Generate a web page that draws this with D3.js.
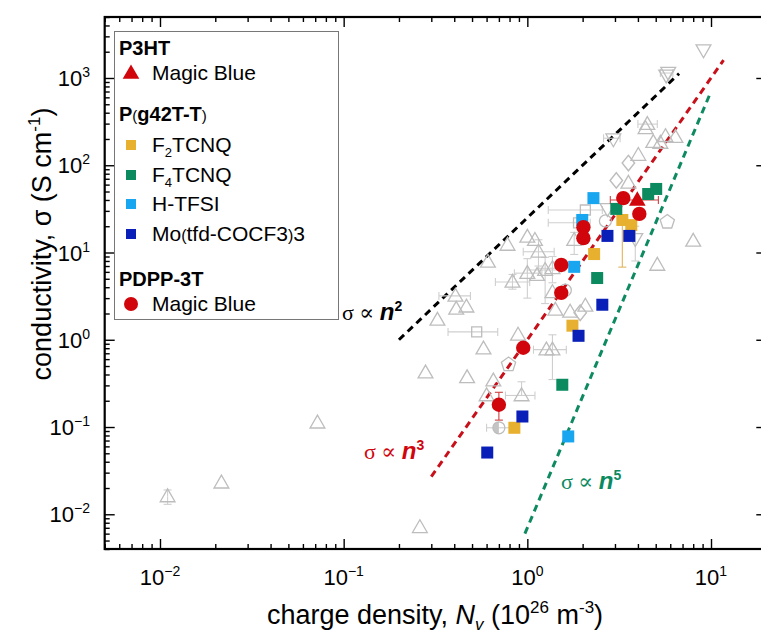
<!DOCTYPE html>
<html>
<head>
<meta charset="utf-8">
<script src="https://cdn.jsdelivr.net/npm/d3@7/dist/d3.min.js"></script>
<style>
  body { margin: 0; background: #fff; }
  svg { display: block; }
</style>
</head>
<body>
<div id="chart"></div>
<script>
'use strict';

// ── Data ──
var xTicks = [0.01, 0.1, 1, 10];
var yTicks = [0.01, 0.1, 1, 10, 100, 1000];

// [N_v (1e26 m^-3), sigma (S/cm)]
var p3htMagicBlue = [[3.97, 40]];
var pdppMagicBlue = [[0.70, 0.18], [0.95, 0.81], [1.53, 3.45], [1.53, 7.2], [2.02, 19.5], [2.02, 14.6], [3.33, 42], [4.07, 27.7]];
var f2tcnq = [[0.85, 0.098], [1.76, 1.45], [2.31, 9.6], [3.29, 23.6], [3.68, 20.6]];
var f4tcnq = [[1.55, 0.305], [2.4, 5.1], [3.05, 31.6], [4.55, 46.8], [5.03, 53.5]];
var htfsi = [[1.67, 0.078], [1.8, 6.85], [1.99, 23.6], [2.29, 42]];
var moTfd = [[0.605, 0.051], [0.94, 0.132], [1.9, 1.11], [2.56, 2.52], [2.73, 15.5], [3.59, 15.5]];

// coloured error bars [N, sigma, xlo, xhi, ylo, yhi, colour key]
var colourErrors = [
    [0.70, 0.18, null, null, 0.12, 0.25, 'red'],
    [3.97, 40, 2.83, 5.17, null, null, 'red'],
    [3.29, 23.6, null, null, 6.8, null, 'orange']
];

// literature data (grey open symbols)
var litTriUp = [
    [0.011, 0.016], [0.0216, 0.023], [0.072, 0.112], [0.26, 0.0071], [0.279, 0.42], [0.47, 0.37],
    [0.324, 1.69], [0.577, 0.79], [0.89, 1.14], [1.37, 0.77], [1.27, 0.77], [0.653, 0.34],
    [0.6, 0.23], [0.93, 0.23], [0.78, 12.2], [0.61, 7.8], [0.406, 3.18], [0.41, 2.26],
    [0.466, 2.39], [0.83, 4.6], [1.0, 15.1], [1.1, 13.9], [1.15, 10.2], [1.0, 5.8],
    [1.13, 5.5], [1.25, 6.3], [1.37, 6.6], [1.37, 3.5], [1.42, 2.2], [1.71, 2.09],
    [2.07, 2.45], [1.8, 13.9], [4.02, 131], [3.55, 62.7], [8.0, 13.6], [5.1, 7.2],
    [4.5, 296], [4.4, 265], [5.65, 215], [6.4, 210], [4.85, 184], [5.3, 180]
];
var litTriDown = [[9.1, 2140], [5.7, 1100], [5.85, 1180], [2.94, 204], [2.73, 32.4], [3.87, 14.7]];
var litDiamond = [[3.55, 106], [3.05, 67], [1.94, 2.04]];
var litSquare = [[2.07, 30.7], [1.9, 21.9], [0.53, 1.23]];
var litCircle = [[2.66, 23], [1.61, 3.7]];
var litHalfCircle = [[0.70, 0.098]];
var litPentagon = [[5.78, 22.4], [0.79, 0.52]];

// grey error bars [N, sigma, xlo, xhi, ylo, yhi]
var litErrors = [
    [0.011, 0.016, null, null, 0.013, 0.019],
    [1.37, 0.77, 1.08, 1.63, 0.35, 1.14],
    [0.93, 0.23, 0.76, 1.1, null, 0.33],
    [0.406, 3.18, 0.33, 0.49, null, null],
    [0.83, 4.6, 0.67, 1.03, 3.8, 5.6],
    [1.15, 10.2, 0.95, 1.4, 7, 14],
    [1.0, 5.8, 0.85, 1.2, 3.0, 8.5],
    [1.25, 6.3, 1.0, 1.5, 2.6, 8.8],
    [1.37, 6.6, 1.15, 1.6, 4.5, 9],
    [2.07, 30.7, 1.3, 2.56, null, null],
    [1.9, 21.9, 1.3, 2.2, null, null],
    [0.53, 1.23, 0.37, 0.69, null, null],
    [0.70, 0.098, 0.6, 0.82, null, null],
    [4.5, 296, 4.0, 5.1, null, null],
    [5.78, 1140, 5.3, 6.2, null, null],
    [1.8, 13.9, null, null, 9.5, 17],
    [3.87, 14.7, null, null, 8, 20],
    [2.94, 204, 2.6, 3.2, null, null]
];

// power laws sigma = a * N^k drawn over [nStart, nEnd]
var lawN2 = {a: 25, k: 2, n0: 0.2, n1: 6.7, colour: '#000000'};
var lawN3 = {a: 1, k: 3, n0: 0.3, n1: 11.7, colour: '#c8101a'};
var lawN5 = {a: 0.007, k: 5, n0: 0.97, n1: 9.8, colour: '#0e8a62'};

var colours = {
    red: '#d0060c',
    orange: '#e8b02f',
    green: '#0b8a60',
    lightBlue: '#19a6f0',
    darkBlue: '#0a1fb8',
    grey: '#bdbdbd',
    greyBar: '#cfcfcf'
};

// ── Setup ──
var W = 761, H = 635;
var sans = 'Liberation Sans, Arial, Helvetica, sans-serif';
var serif = 'Liberation Serif, DejaVu Serif, Times New Roman, serif';

var svg = d3.select('#chart').append('svg')
    .attr('xmlns', 'http://www.w3.org/2000/svg')
    .attr('width', W).attr('height', H);

var x = d3.scaleLog().domain([0.005, 20]).range([104.7, 766.3]);
var y = d3.scaleLog().domain([0.004, 5000]).range([549, 17]);

var x0 = x.range()[0], x1 = x.range()[1];
var y0 = y.range()[0], y1 = y.range()[1];

// rich text helper: parts = [{t, sup, sub, bold, italic, size, family}]
function rich(textSel, parts, baseSize) {
    var shift = 0;
    parts.forEach(function(p) {
        var ts = textSel.append('tspan').text(p.t);
        var target = p.sup ? -baseSize * 0.4 : (p.sub ? baseSize * 0.22 : 0);
        if (target !== shift) { ts.attr('dy', target - shift); shift = target; }
        if (p.sup || p.sub) ts.attr('font-size', p.size || baseSize * 0.62);
        else if (p.size) ts.attr('font-size', p.size);
        if (p.bold) ts.attr('font-weight', 'bold');
        if (p.italic) ts.attr('font-style', 'italic');
        if (p.family) ts.attr('font-family', p.family);
    });
    return textSel;
}

function expOf(v) { return String(Math.round(Math.log10(v))).replace('-', '\u2212'); }

// ── Axes (ticks inward) ──
function isPow10(v) { return Math.abs(Math.log10(v) - Math.round(Math.log10(v))) < 1e-9; }
var xMinor = x.ticks().filter(function(v) { return !isPow10(v); });
var yMinor = y.ticks().filter(function(v) { return !isPow10(v); });

var axes = svg.append('g').attr('class', 'axes');

function addAxis(axisFn, scale, major, minor, tx, ty) {
    var g = axes.append('g').attr('transform', 'translate(' + tx + ',' + ty + ')');
    g.call(axisFn(scale).tickValues(minor).tickSize(-5).tickSizeOuter(0).tickFormat(''));
    g.call(function(sel) { sel.select('.domain').remove(); });
    var g2 = axes.append('g').attr('transform', 'translate(' + tx + ',' + ty + ')');
    g2.call(axisFn(scale).tickValues(major).tickSize(-10).tickSizeOuter(0).tickFormat(''));
    g2.select('.domain').remove();
    axes.selectAll('.tick line').attr('stroke', '#000').attr('stroke-width', 1.4);
}
addAxis(d3.axisBottom, x, xTicks, xMinor, 0, y0);
addAxis(d3.axisTop, x, xTicks, xMinor, 0, y1);
addAxis(d3.axisLeft, y, yTicks, yMinor, x0, 0);
addAxis(d3.axisRight, y, yTicks, yMinor, x1, 0);

axes.append('rect')
    .attr('x', x0).attr('y', y1).attr('width', x1 - x0).attr('height', y0 - y1)
    .attr('fill', 'none').attr('stroke', '#000').attr('stroke-width', 2.2);

// tick labels
svg.append('g').selectAll('text')
    .data(xTicks).enter()
    .append('text')
    .attr('x', function(d) { return x(d); })
    .attr('y', 585)
    .attr('text-anchor', 'middle')
    .attr('font-family', sans).attr('font-size', 22)
    .each(function(d) { rich(d3.select(this), [{t: '10'}, {t: expOf(d), sup: true, size: 14}], 22); });

svg.append('g').selectAll('text')
    .data(yTicks).enter()
    .append('text')
    .attr('x', 90)
    .attr('y', function(d) { return y(d) + 8; })
    .attr('text-anchor', 'end')
    .attr('font-family', sans).attr('font-size', 22)
    .each(function(d) { rich(d3.select(this), [{t: '10'}, {t: expOf(d), sup: true, size: 14}], 22); });

// axis titles
rich(svg.append('text')
    .attr('x', 435).attr('y', 624)
    .attr('text-anchor', 'middle')
    .attr('font-family', sans).attr('font-size', 27),
    [{t: 'charge density, '}, {t: 'N', italic: true}, {t: 'v', sub: true, italic: true, size: 17},
     {t: ' (10'}, {t: '26', sup: true, size: 17}, {t: ' m'}, {t: '-3', sup: true, size: 17}, {t: ')'}], 27);

rich(svg.append('text')
    .attr('transform', 'translate(51,244) rotate(-90)')
    .attr('text-anchor', 'middle')
    .attr('font-family', sans).attr('font-size', 27),
    [{t: 'conductivity, \u03c3 (S cm'}, {t: '-1', sup: true, size: 17}, {t: ')'}], 27);

// ── Power-law guide lines ──
var lineGen = d3.line().x(function(d) { return x(d[0]); }).y(function(d) { return y(d[1]); });
var laws = svg.append('g').attr('class', 'laws');
[lawN2, lawN3, lawN5].forEach(function(l) {
    var pts = [[l.n0, l.a * Math.pow(l.n0, l.k)], [l.n1, l.a * Math.pow(l.n1, l.k)]];
    laws.append('path')
        .attr('d', lineGen(pts))
        .attr('fill', 'none')
        .attr('stroke', l.colour)
        .attr('stroke-width', 3)
        .attr('stroke-dasharray', '7,5');
});

function lawLabel(px, py, colour, power) {
    rich(svg.append('text')
        .attr('x', px).attr('y', py)
        .attr('fill', colour)
        .attr('font-family', serif).attr('font-size', 22),
        [{t: '\u03c3 \u221d '}, {t: 'n', bold: true, italic: true, family: sans, size: 24},
         {t: power, sup: true, bold: true, family: sans, size: 14}], 22);
}
lawLabel(342, 320, '#000', '2');
lawLabel(364, 459, colours.red, '3');
lawLabel(561, 489, colours.green, '5');

// ── Literature data (grey) ──
var lit = svg.append('g').attr('class', 'lit');

function errorBars(g, rows, colour) {
    rows.forEach(function(r) {
        var cx = x(r[0]), cy = y(r[1]);
        if (r[2] !== null) {
            g.append('line').attr('x1', x(r[2])).attr('x2', x(r[3])).attr('y1', cy).attr('y2', cy);
            g.append('line').attr('x1', x(r[2])).attr('x2', x(r[2])).attr('y1', cy - 4).attr('y2', cy + 4);
            g.append('line').attr('x1', x(r[3])).attr('x2', x(r[3])).attr('y1', cy - 4).attr('y2', cy + 4);
        }
        [r[4], r[5]].forEach(function(v) {
            if (v === null || v === undefined) return;
            g.append('line').attr('x1', cx).attr('x2', cx).attr('y1', cy).attr('y2', y(v));
            g.append('line').attr('x1', cx - 4).attr('x2', cx + 4).attr('y1', y(v)).attr('y2', y(v));
        });
    });
    g.selectAll('line').attr('stroke', colour).attr('stroke-width', 1.1);
}
errorBars(lit.append('g'), litErrors, colours.greyBar);

function pentagonPath(r) {
    var pts = d3.range(5).map(function(i) {
        var a = -Math.PI / 2 + i * 2 * Math.PI / 5;
        return [r * Math.cos(a), r * Math.sin(a)];
    });
    return 'M' + pts.join('L') + 'Z';
}

var greyStyle = function(sel) {
    sel.attr('fill', 'none').attr('stroke', colours.grey).attr('stroke-width', 1.3);
};
var triUp = d3.symbol().type(d3.symbolTriangle).size(95)();
var triSq = d3.symbol().type(d3.symbolSquare).size(100)();
var triDi = d3.symbol().type(d3.symbolDiamond).size(85)();

function place(d) { return 'translate(' + x(d[0]) + ',' + y(d[1]) + ')'; }

lit.selectAll('.tu').data(litTriUp).enter().append('path').attr('class', 'tu')
    .attr('d', triUp).attr('transform', function(d) { return place(d) + ' translate(0,1)'; }).call(greyStyle);
lit.selectAll('.td').data(litTriDown).enter().append('path').attr('class', 'td')
    .attr('d', triUp).attr('transform', function(d) { return place(d) + ' rotate(180)'; }).call(greyStyle);
lit.selectAll('.di').data(litDiamond).enter().append('path').attr('class', 'di')
    .attr('d', triDi).attr('transform', function(d) { return place(d) + ' scale(1.25,0.9)'; }).call(greyStyle);
lit.selectAll('.sq').data(litSquare).enter().append('path').attr('class', 'sq')
    .attr('d', triSq).attr('transform', place).call(greyStyle);
lit.selectAll('.ci').data(litCircle).enter().append('circle').attr('class', 'ci')
    .attr('cx', function(d) { return x(d[0]); }).attr('cy', function(d) { return y(d[1]); })
    .attr('r', 6).call(greyStyle);
lit.selectAll('.pe').data(litPentagon).enter().append('path').attr('class', 'pe')
    .attr('d', pentagonPath(7.5)).attr('transform', place).call(greyStyle);
litHalfCircle.forEach(function(d) {
    var hc = lit.append('g').attr('transform', place(d));
    hc.append('path').attr('d', 'M0,-6A6,6 0 0 0 0,6Z').attr('fill', '#c4c4c4');
    hc.append('circle').attr('r', 6).call(greyStyle);
});

// ── Coloured data ──
var main = svg.append('g').attr('class', 'main');

var barG = main.append('g');
colourErrors.forEach(function(r) {
    errorBars(barG.append('g'), [r], r[6] === 'red' ? '#d04040' : '#e3b45a');
});

function squares(data, colour) {
    main.append('g').selectAll('rect')
        .data(data).enter()
        .append('rect')
        .attr('x', function(d) { return x(d[0]) - 6; })
        .attr('y', function(d) { return y(d[1]) - 6; })
        .attr('width', 12).attr('height', 12)
        .attr('fill', colour);
}
squares(f2tcnq, colours.orange);
squares(moTfd, colours.darkBlue);
squares(htfsi, colours.lightBlue);
squares(f4tcnq, colours.green);

var triRed = d3.symbol().type(d3.symbolTriangle).size(120)();
main.append('g').selectAll('path')
    .data(p3htMagicBlue).enter()
    .append('path')
    .attr('d', triRed)
    .attr('transform', function(d) { return place(d) + ' translate(0,1)'; })
    .attr('fill', colours.red);

main.append('g').selectAll('circle')
    .data(pdppMagicBlue).enter()
    .append('circle')
    .attr('cx', function(d) { return x(d[0]); })
    .attr('cy', function(d) { return y(d[1]); })
    .attr('r', 7.2)
    .attr('fill', colours.red);

// ── Legend ──
var legendRows = [
    {type: 'head', y: 55, parts: [{t: 'P3HT', bold: true}]},
    {type: 'tri', y: 80, colour: colours.red, parts: [{t: 'Magic Blue'}]},
    {type: 'head', y: 121, parts: [{t: 'P', bold: true}, {t: '(', size: 15}, {t: 'g42T-T', bold: true}, {t: ')', size: 15}]},
    {type: 'sq', y: 152, colour: colours.orange, parts: [{t: 'F'}, {t: '2', sub: true, size: 13}, {t: 'TCNQ'}]},
    {type: 'sq', y: 182, colour: colours.green, parts: [{t: 'F'}, {t: '4', sub: true, size: 13}, {t: 'TCNQ'}]},
    {type: 'sq', y: 211, colour: colours.lightBlue, parts: [{t: 'H-TFSI'}]},
    {type: 'sq', y: 241, colour: colours.darkBlue, parts: [{t: 'Mo'}, {t: '(', size: 16}, {t: 'tfd-COCF3'}, {t: ')', size: 16}, {t: '3'}]},
    {type: 'head', y: 286, parts: [{t: 'PDPP-3T', bold: true}]},
    {type: 'circ', y: 311, colour: colours.red, parts: [{t: 'Magic Blue'}]}
];

var legend = svg.append('g').attr('class', 'legend');
legend.append('rect')
    .attr('x', 114.5).attr('y', 31.5).attr('width', 224).attr('height', 288)
    .attr('fill', '#fff').attr('stroke', '#777').attr('stroke-width', 1);

legendRows.forEach(function(r) {
    var isHead = r.type === 'head';
    rich(legend.append('text')
        .attr('x', isHead ? 119 : 152).attr('y', r.y)
        .attr('font-family', sans).attr('font-size', isHead ? 20 : 21),
        r.parts, isHead ? 20 : 21);
    var my = r.y - 7;
    if (r.type === 'tri') {
        legend.append('path').attr('d', triRed).attr('transform', 'translate(131,' + (my + 1) + ')').attr('fill', r.colour);
    } else if (r.type === 'sq') {
        legend.append('rect').attr('x', 126).attr('y', my - 5).attr('width', 10).attr('height', 10).attr('fill', r.colour);
    } else if (r.type === 'circ') {
        legend.append('circle').attr('cx', 131).attr('cy', my).attr('r', 7).attr('fill', r.colour);
    }
});
</script>
</body>
</html>
